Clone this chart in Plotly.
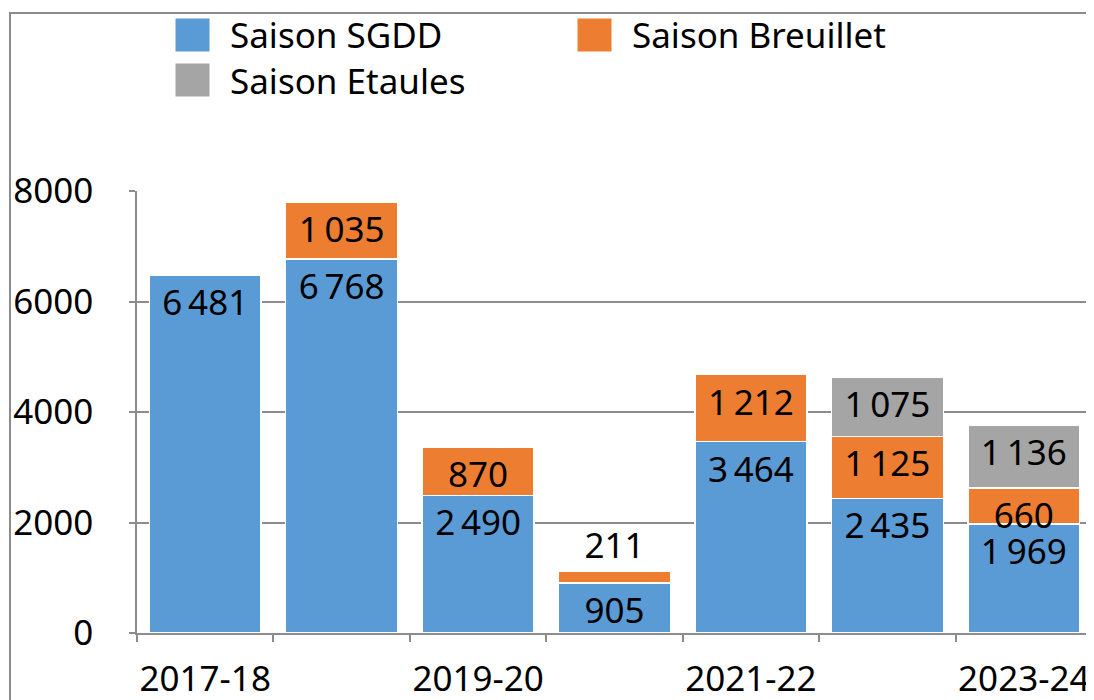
import plotly.graph_objects as go

seasons = ["2017-18", "2018-19", "2019-20", "2020-21", "2021-22", "2022-23", "2023-24"]
x_labels = ["2017-18", "", "2019-20", "", "2021-22", "", "2023-24"]
sgdd = [6481, 6768, 2490, 905, 3464, 2435, 1969]
breuillet = [None, 1035, 870, 211, 1212, 1125, 660]
etaules = [None, None, None, None, None, 1075, 1136]
y_ticks = [0, 2000, 4000, 6000, 8000]

names = ["Saison SGDD", "Saison Breuillet", "Saison Etaules"]
c = ["#5B9BD5", "#ED7D31", "#A5A5A5"]
grid = "#8c8c8c"
font = "Noto Sans"
fsize = 35


def fmt(v):
    if v is None:
        return ""
    return f"{v:,}".replace(",", "\u2009")


fig = go.Figure()
for name, vals, col in zip(names, [sgdd, breuillet, etaules], c):
    # small segments get their label above the bar
    pos = ["outside" if (v is not None and v < 400) else "inside" for v in vals]
    fig.add_trace(go.Bar(
        x=seasons, y=vals, name=name,
        marker=dict(color=col, line=dict(color="white", width=1.5)),
        text=[fmt(v) for v in vals],
        textposition=pos,
        insidetextanchor="end",
        textfont=dict(family=font, size=fsize, color="black"),
        cliponaxis=False,
        hoverinfo="skip",
        showlegend=False,
    ))

# page has an 8px body margin, so work in page pixels and shift
OFF = 8
W, H = 1094 - OFF, 700 - OFF
L, R, T, B = 137 - OFF, 2, 191 - OFF, 67
pw, ph = W - L - R, H - T - B


def px_x(x):
    return (x - OFF - L) / pw


def px_y(y):
    return (H - B - (y - OFF)) / ph


# hand-made legend (big swatches like the original)
leg = [(175, 35), (577, 35), (175, 80)]
shapes = []
annos = []
for (lx, ly), name, col in zip(leg, names, c):
    shapes.append(dict(type="rect", xref="paper", yref="paper",
                       x0=px_x(lx), x1=px_x(lx + 35), y0=px_y(ly - 17), y1=px_y(ly + 17),
                       fillcolor=col, line=dict(color="white", width=1)))
    annos.append(dict(xref="paper", yref="paper", x=px_x(lx + 53), y=px_y(ly),
                      xanchor="left", yanchor="middle", text=name, showarrow=False,
                      font=dict(family=font, size=fsize, color="black")))

# outer chart border (runs off the right and bottom of the picture)
shapes.append(dict(type="rect", xref="paper", yref="paper",
                   x0=px_x(10), x1=px_x(1120), y0=px_y(740), y1=px_y(13),
                   line=dict(color=grid, width=2), layer="below"))

fig.update_layout(
    barmode="stack",
    bargap=0.18,
    width=W, height=H,
    margin=dict(l=L, r=R, t=T, b=B, autoexpand=False),
    plot_bgcolor="white",
    paper_bgcolor="white",
    font=dict(family=font, size=fsize, color="black"),
    uniformtext=dict(minsize=fsize, mode="show"),
    shapes=shapes,
    annotations=annos,
    showlegend=False,
)
fig.update_yaxes(range=[0, 8000], tickvals=y_ticks, tickformat="d",
                 showgrid=True, gridcolor=grid, gridwidth=1.5,
                 showline=True, linecolor=grid, linewidth=1.5,
                 ticks="outside", ticklen=6, tickcolor=grid, tickwidth=1.5,
                 ticklabelstandoff=29, zeroline=False, automargin=False,
                 tickfont=dict(family=font, size=fsize, color="black"))
fig.update_xaxes(type="category", tickvals=seasons, ticktext=x_labels,
                 tickson="boundaries", ticks="outside", ticklen=7,
                 tickcolor=grid, tickwidth=1.5, tickangle=0,
                 showline=True, linecolor=grid, linewidth=1.5, showgrid=False,
                 ticklabelstandoff=14, automargin=False,
                 tickfont=dict(family=font, size=fsize, color="black"))

fig.write_html("out.html")
